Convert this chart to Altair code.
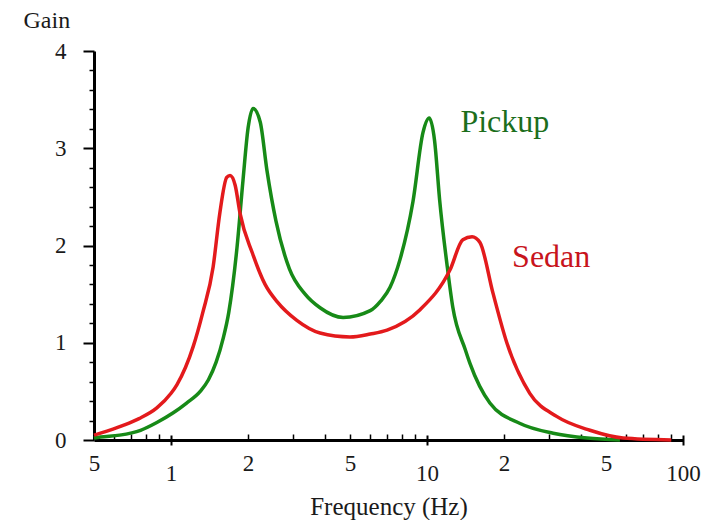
import altair as alt
import pandas as pd

# ---- data ----
pickup_freq = [0.5, 0.53, 0.63, 0.76, 0.88, 1.02, 1.15, 1.3, 1.4, 1.5, 1.6, 1.68, 1.81, 1.91, 2.0, 2.09,
               2.23, 2.37, 2.57, 2.9, 3.34, 3.82, 4.7, 6.0, 6.6, 7.17, 7.85, 8.81, 9.64, 10.2, 10.7,
               11.2, 12.0, 12.6, 14.1, 14.7, 17.6, 23.1, 31.1, 42.2, 56.7]
pickup_gain = [0.02, 0.03, 0.05, 0.10, 0.18, 0.28, 0.38, 0.50, 0.62, 0.80, 1.05, 1.31, 1.98, 2.67, 3.21, 3.41,
               3.27, 2.77, 2.25, 1.76, 1.50, 1.36, 1.26, 1.33, 1.43, 1.57, 1.86, 2.45, 3.16, 3.31, 3.08,
               2.47, 1.78, 1.37, 0.93, 0.79, 0.38, 0.17, 0.07, 0.02, 0.0]

sedan_freq = [0.5, 0.53, 0.65, 0.75, 0.88, 1.0, 1.055, 1.22, 1.33, 1.46, 1.55, 1.65, 1.70, 1.78, 1.86,
              2.08, 2.33, 2.6, 3.1, 3.82, 5.0, 6.0, 6.98, 9.39, 12.3, 13.8, 15.0, 16.1, 18.1, 20.5,
              25.2, 32.2, 43.3, 58.3, 90.0]
sedan_gain = [0.05, 0.07, 0.15, 0.22, 0.33, 0.48, 0.57, 0.96, 1.31, 1.78, 2.33, 2.70, 2.72, 2.62, 2.33,
              1.92, 1.60, 1.42, 1.23, 1.10, 1.06, 1.09, 1.13, 1.34, 1.75, 2.06, 2.09, 2.03, 1.51, 1.00,
              0.48, 0.24, 0.10, 0.02, 0.0]

series_names = ["Pickup", "Sedan"]
line_colors = ["#178a17", "#e31a1c"]
text_colors = ["#1c6e1c", "#c8141c"]
label_freq = [13.5, 21.5]
label_gain = [3.17, 1.78]

x_upper_ticks = [0.5, 2, 5, 20, 50]
x_lower_ticks = [1, 10, 100]
x_minor_ticks = [0.6, 0.7, 0.8, 0.9, 2, 3, 4, 5, 6, 7, 8, 9, 20, 30, 40, 50, 60, 70, 80, 90]
y_major_ticks = [0, 1, 2, 3, 4]
y_minor_ticks = [0.2, 0.4, 0.6, 0.8, 1.2, 1.4, 1.6, 1.8, 2.2, 2.4, 2.6, 2.8, 3.2, 3.4, 3.6, 3.8]

# ---- tables ----
lines_df = pd.concat([
    pd.DataFrame({"freq": pickup_freq, "gain": pickup_gain, "vehicle": "Pickup"}),
    pd.DataFrame({"freq": sedan_freq, "gain": sedan_gain, "vehicle": "Sedan"}),
])
labels_df = pd.DataFrame({"freq": label_freq, "gain": label_gain,
                          "vehicle": series_names, "tcolor": text_colors})

FONT = "Liberation Serif, Times New Roman, Times, DejaVu Serif, serif"
INK = "#1a1a1a"

xscale = alt.Scale(type="log", domain=[0.5, 100])
yscale = alt.Scale(domain=[0, 4])

x_axis_main = alt.Axis(
    values=x_upper_ticks, orient="bottom",
    labelExpr="datum.value < 1 ? '5' : datum.value >= 20 ? format(datum.value / 10, 'd') : format(datum.value, 'd')",
    ticks=False, domain=True, domainColor="black", domainWidth=3, grid=False,
    labelFont=FONT, labelFontSize=23, labelColor=INK, labelPadding=12,
    labelFlush=False, labelOverlap=False,
    title="Frequency (Hz)", titleFont=FONT, titleFontSize=25, titleFontWeight="normal",
    titleColor=INK, titleBaseline="alphabetic", titleY=74,
)
x_axis_major = alt.Axis(
    values=x_lower_ticks, orient="bottom", labelExpr="format(datum.value, 'd')",
    ticks=True, tickSize=10, tickWidth=2, tickColor="black", offset=-5,
    domain=False, grid=False,
    labelFont=FONT, labelFontSize=23, labelColor=INK, labelPadding=17,
    labelFlush=False, labelOverlap=False, title=None,
)
x_axis_minor = alt.Axis(
    values=x_minor_ticks, orient="bottom", ticks=True, tickSize=6, tickWidth=1.5,
    tickColor="black", offset=-6, labels=False, domain=False, grid=False, title=None,
)
y_axis_main = alt.Axis(
    values=y_major_ticks, orient="left", ticks=True, tickSize=11, tickWidth=2, tickColor="black",
    domain=True, domainColor="black", domainWidth=3, grid=False,
    labelFont=FONT, labelFontSize=23, labelColor=INK, labelPadding=17,
    title="Gain", titleAngle=0, titleX=-71, titleY=-24, titleAlign="left",
    titleBaseline="alphabetic", titleFont=FONT, titleFontSize=24, titleFontWeight="normal",
    titleColor=INK,
)
y_axis_minor = alt.Axis(
    values=y_minor_ticks, orient="left", ticks=True, tickSize=5, tickWidth=1.5,
    tickColor="black", labels=False, domain=False, grid=False, title=None,
)

lines = alt.Chart(lines_df).mark_line(strokeWidth=3.5, interpolate="monotone").encode(
    x=alt.X("freq:Q", scale=xscale, axis=x_axis_main),
    y=alt.Y("gain:Q", scale=yscale, axis=y_axis_main),
    color=alt.Color("vehicle:N", scale=alt.Scale(domain=series_names, range=line_colors), legend=None),
)

texts = alt.Chart(labels_df).mark_text(
    font=FONT, fontSize=32, align="left", baseline="alphabetic"
).encode(
    x=alt.X("freq:Q", scale=xscale, axis=x_axis_major),
    y=alt.Y("gain:Q", scale=yscale, axis=y_axis_minor),
    text="vehicle:N",
    color=alt.Color("tcolor:N", scale=None),
)

minor = alt.Chart(labels_df).mark_point(opacity=0).encode(
    x=alt.X("freq:Q", scale=xscale, axis=x_axis_minor),
    y=alt.Y("gain:Q", scale=yscale, axis=None),
)

chart = alt.layer(lines, texts, minor).resolve_axis(
    x="independent", y="independent"
).properties(
    width=589, height=389,
    autosize=alt.AutoSizeParams(type="none"),
    padding={"left": 86, "top": 43, "right": 24, "bottom": 80},
    background="white",
).configure_view(stroke=None)

chart.save("out.html", embed_options={"renderer": "svg", "actions": False})
